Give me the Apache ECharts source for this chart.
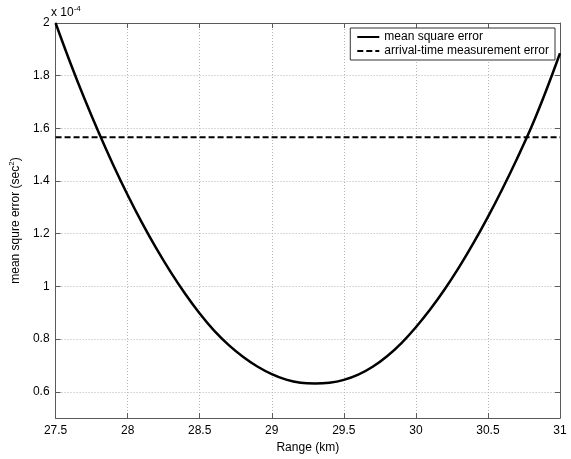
<!DOCTYPE html>
<html>
<head>
<meta charset="utf-8">
<script src="https://cdn.jsdelivr.net/npm/echarts@6/dist/echarts.min.js"></script>
<style>
  html, body { margin: 0; padding: 0; background: #fff; }
  #chart { width: 571px; height: 459px; }
</style>
</head>
<body>
<div id="chart"></div>
<script>
// range values (km)
const rangeKm = [27.5, 27.6, 27.7, 27.8, 27.9, 28.0, 28.1, 28.2, 28.3, 28.4, 28.5,
  28.6, 28.7, 28.8, 28.9, 29.0, 29.1, 29.2, 29.3, 29.4, 29.5, 29.6, 29.7, 29.8,
  29.9, 30.0, 30.1, 30.2, 30.3, 30.4, 30.5, 30.6, 30.7, 30.8, 30.9, 31.0];
// mean square error, x 1e-4 sec^2
const mse = [2.000, 1.852, 1.713, 1.583, 1.461, 1.347, 1.241, 1.143, 1.053, 0.971, 0.897,
  0.832, 0.778, 0.733, 0.696, 0.667, 0.646, 0.634, 0.631, 0.634, 0.645, 0.665, 0.695, 0.735,
  0.785, 0.845, 0.913, 0.989, 1.073, 1.165, 1.264, 1.370, 1.483, 1.603, 1.738, 1.885];
// arrival-time measurement error (constant level)
const arrivalX = [27.5, 31];
const arrivalY = [1.566, 1.566];

const xTicks = [27.5, 28, 28.5, 29, 29.5, 30, 30.5, 31];
const yTicks = [0.6, 0.8, 1.0, 1.2, 1.4, 1.6, 1.8, 2.0];

const font = "Arial, 'Liberation Sans', Helvetica, sans-serif";
const axisColor = "#5a5a5a";
const gridStyle = { color: "#b4b4b4", width: 1, type: [1, 2] };

const chart = echarts.init(document.getElementById("chart"));

chart.setOption({
  animation: false,
  backgroundColor: "#fff",
  textStyle: { fontFamily: font },
  grid: { left: 49, right: 11, top: 23, bottom: 35 },
  legend: {
    orient: "vertical",
    right: 16,
    top: 28,
    padding: [3, 6, 3, 6],
    itemGap: 2,
    itemWidth: 22,
    itemHeight: 10,
    backgroundColor: "#fff",
    borderColor: "#333",
    borderWidth: 1,
    borderRadius: 0,
    itemStyle: { opacity: 0 },
    textStyle: { fontSize: 12, color: "#000", fontFamily: font },
    data: ["mean square error", "arrival-time measurement error"]
  },
  xAxis: [
    {
      type: "value",
      min: 27.5,
      max: 31,
      interval: 0.5,
      name: "Range (km)",
      nameLocation: "middle",
      nameGap: 22,
      nameTextStyle: { fontSize: 12, color: "#000" },
      axisLine: { show: true, lineStyle: { color: axisColor } },
      axisTick: { inside: true, length: 5, customValues: xTicks, lineStyle: { color: axisColor } },
      axisLabel: { fontSize: 12, color: "#000", margin: 7, customValues: xTicks },
      splitLine: { show: true, lineStyle: gridStyle }
    },
    {
      type: "value",
      position: "top",
      min: 27.5,
      max: 31,
      interval: 0.5,
      axisLine: { show: true, lineStyle: { color: axisColor } },
      axisTick: { inside: true, length: 5, lineStyle: { color: axisColor } },
      axisLabel: { show: false },
      splitLine: { show: false }
    }
  ],
  yAxis: [
    {
      type: "value",
      min: 0.5,
      max: 2,
      name: "{a|mean squre error (sec}{s|2}{a|)}",
      nameLocation: "middle",
      nameGap: 30,
      nameTextStyle: {
        rich: {
          a: { fontSize: 12, color: "#000", fontFamily: font, lineHeight: 16 },
          s: { fontSize: 8, color: "#000", fontFamily: font, verticalAlign: "top", lineHeight: 16 }
        }
      },
      axisLine: { show: true, lineStyle: { color: axisColor } },
      axisTick: { inside: true, length: 5, customValues: yTicks, lineStyle: { color: axisColor } },
      axisLabel: {
        fontSize: 12, color: "#000", margin: 6, customValues: yTicks,
        formatter: (v) => String(Math.round(v * 10) / 10)
      },
      splitLine: { show: true, lineStyle: gridStyle }
    },
    {
      type: "value",
      position: "right",
      min: 0.5,
      max: 2,
      axisLine: { show: true, lineStyle: { color: axisColor } },
      axisTick: { inside: true, length: 5, customValues: yTicks, lineStyle: { color: axisColor } },
      axisLabel: { show: false, customValues: yTicks },
      splitLine: { show: false }
    }
  ],
  graphic: [
    {
      type: "text",
      left: 51,
      top: 5,
      style: {
        text: "{a|x 10}{s|-4}",
        rich: {
          a: { fontSize: 12, fill: "#000", fontFamily: font, lineHeight: 16 },
          s: { fontSize: 8, fill: "#000", fontFamily: font, verticalAlign: "top", lineHeight: 16 }
        }
      }
    }
  ],
  series: [
    {
      name: "mean square error",
      type: "line",
      smooth: 0.4,
      showSymbol: false,
      symbol: "none",
      data: rangeKm.map((x, i) => [x, mse[i]]),
      lineStyle: { color: "#000", width: 2.5 },
      itemStyle: { color: "#000" }
    },
    {
      name: "arrival-time measurement error",
      type: "line",
      showSymbol: false,
      symbol: "none",
      data: arrivalX.map((x, i) => [x, arrivalY[i]]),
      lineStyle: { color: "#000", width: 2, type: [6, 3] },
      itemStyle: { color: "#000" }
    }
  ]
});
</script>
</body>
</html>
